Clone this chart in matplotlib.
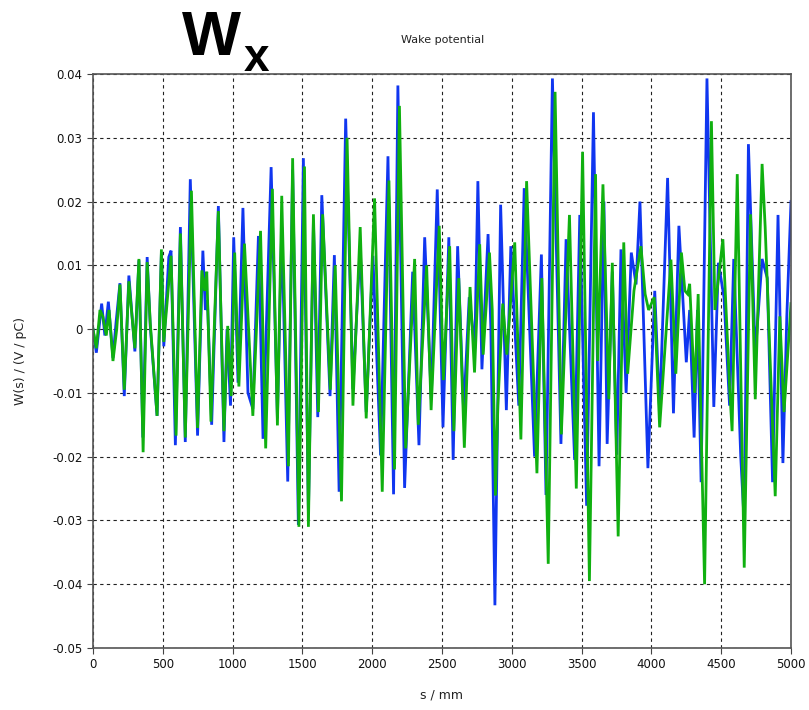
import matplotlib
matplotlib.use("Agg")
import matplotlib.pyplot as plt
import numpy as np

# Blue series: (s in mm, W in V/pC)
blue_s = [0, 24, 62, 85, 110, 143, 165, 193, 224, 257, 300, 329, 357, 388, 410, 459, 490, 507, 543, 559,
          590, 626, 661, 697, 749, 787, 805, 820, 850, 898, 938, 960, 985, 1008, 1039, 1074, 1110, 1145, 1185, 1218,
          1276, 1321, 1352, 1395, 1430, 1471, 1507, 1543, 1579, 1610, 1639, 1698, 1729, 1763, 1810, 1862, 1914, 1957, 2005, 2060,
          2113, 2153, 2184, 2232, 2290, 2335, 2376, 2423, 2466, 2507, 2549, 2580, 2612, 2655, 2695, 2735, 2757, 2786, 2830, 2850,
          2879, 2920, 2961, 2993, 3050, 3089, 3163, 3212, 3245, 3291, 3352, 3389, 3450, 3487, 3536, 3585, 3625, 3660, 3683, 3720,
          3752, 3782, 3819, 3856, 3890, 3918, 3975, 4024, 4059, 4116, 4158, 4197, 4250, 4274, 4306, 4330, 4356, 4398, 4447, 4480,
          4520, 4560, 4590, 4640, 4665, 4695, 4744, 4793, 4830, 4868, 4907, 4942, 4970, 5000]
blue_w = [0, -0.0037, 0.004, -0.001, 0.0043, -0.0045, 0.001, 0.0072, -0.0105, 0.0084, -0.0035, 0.0108, -0.017, 0.0113, 0.0005, -0.0136, 0.012, -0.0027, 0.0113, 0.0123,
          -0.0182, 0.016, -0.0177, 0.0235, -0.0167, 0.0123, 0.003, 0.0045, -0.015, 0.0193, -0.0177, 0.0, -0.012, 0.0144, -0.0084, 0.019, -0.01, -0.0125, 0.0146, -0.0172,
          0.0254, -0.014, 0.016, -0.0239, 0.025, -0.0307, 0.0268, -0.029, 0.017, -0.0138, 0.021, -0.0105, 0.0116, -0.0255, 0.033, -0.0094, 0.013, -0.013, 0.0115, -0.0198,
          0.0271, -0.0259, 0.0382, -0.0249, 0.009, -0.0182, 0.0144, -0.011, 0.0219, -0.0154, 0.0144, -0.0205, 0.013, -0.013, 0.005, -0.003, 0.0232, -0.0063, 0.0149, 0.0,
          -0.0433, 0.0195, -0.0127, 0.013, -0.012, 0.0221, -0.02, 0.0117, -0.026, 0.0393, -0.018, 0.0141, -0.0205, 0.0179, -0.0277, 0.034, -0.0215, 0.02, -0.018, 0.009,
          -0.0197, 0.0125, -0.01, 0.012, 0.007, 0.02, -0.0218, 0.006, -0.013, 0.0237, -0.0132, 0.0162, -0.0052, 0.003, -0.017, 0.003, -0.024, 0.0393, -0.0122, 0.0104,
          0.005, -0.012, 0.011, -0.02, -0.0305, 0.029, -0.004, 0.011, 0.008, -0.024, 0.0179, -0.021, 0.002, 0.02]

# Green series
green_s = [0, 24, 50, 70, 95, 115, 143, 170, 193, 224, 257, 300, 329, 359, 388, 410, 459, 490, 507, 559,
           595, 626, 661, 705, 749, 780, 800, 815, 845, 898, 938, 965, 990, 1015, 1045, 1085, 1145, 1200, 1237, 1285,
           1321, 1352, 1400, 1430, 1475, 1515, 1543, 1579, 1615, 1645, 1700, 1735, 1780, 1820, 1862, 1914, 1957, 2017, 2072, 2120,
           2160, 2195, 2240, 2304, 2330, 2390, 2422, 2480, 2510, 2555, 2585, 2620, 2660, 2701, 2733, 2770, 2795, 2840, 2860, 2883,
           2900, 2935, 2965, 3021, 3065, 3106, 3180, 3215, 3261, 3310, 3355, 3413, 3462, 3507, 3556, 3600, 3615, 3653, 3695, 3720,
           3762, 3802, 3830, 3875, 3925, 3955, 3980, 4000, 4020, 4059, 4140, 4175, 4215, 4240, 4260, 4274, 4310, 4335, 4381, 4430,
           4455, 4512, 4560, 4578, 4615, 4665, 4710, 4744, 4793, 4815, 4887, 4920, 4950, 5000]
green_w = [0, -0.003, 0.003, 0.002, -0.001, 0.003, -0.005, 0.0, 0.007, -0.0095, 0.0075, -0.003, 0.011, -0.0193, 0.0105, 0.001, -0.0136, 0.0125, -0.002, 0.0115,
           -0.0167, 0.015, -0.017, 0.0217, -0.0155, 0.0092, 0.006, 0.009, -0.0145, 0.0185, -0.016, 0.0005, -0.0105, 0.012, -0.009, 0.0134, -0.0136, 0.0154, -0.0187, 0.022,
           -0.0151, 0.0209, -0.0215, 0.0268, -0.031, 0.0255, -0.031, 0.018, -0.013, 0.018, -0.0095, 0.010, -0.027, 0.030, -0.012, 0.016, -0.014, 0.0205, -0.0255, 0.0233,
           -0.022, 0.035, -0.0187, 0.011, -0.015, 0.010, -0.0127, 0.0162, -0.008, 0.013, -0.016, 0.008, -0.0186, 0.0066, -0.0068, 0.0133, -0.004, 0.012, 0.003, -0.0261,
           -0.012, 0.004, -0.004, 0.0136, -0.0173, 0.0232, -0.0226, 0.008, -0.0368, 0.0372, -0.0165, 0.0179, -0.025, 0.0278, -0.0395, 0.0243, -0.005, 0.0227, -0.011, 0.0104,
           -0.0325, 0.0136, -0.007, 0.006, 0.013, 0.0055, 0.003, 0.004, 0.005, -0.0154, 0.0109, -0.007, 0.012, 0.006, 0.0055, 0.0071, -0.01, 0.0055, -0.040, 0.0326,
           0.003, 0.0141, -0.009, -0.016, 0.0243, -0.0374, 0.018, -0.011, 0.0259, 0.016, -0.0262, 0.002, -0.013, 0.004]

x_ticks = [0, 500, 1000, 1500, 2000, 2500, 3000, 3500, 4000, 4500, 5000]
y_ticks = [-0.05, -0.04, -0.03, -0.02, -0.01, 0, 0.01, 0.02, 0.03, 0.04]
y_tick_labels = ["-0.05", "-0.04", "-0.03", "-0.02", "-0.01", "0", "0.01", "0.02", "0.03", "0.04"]

fig = plt.figure(figsize=(8.09, 7.10), dpi=100)
ax = fig.add_axes([93 / 809, 1 - 648 / 710, (791 - 93) / 809, (648 - 74) / 710])

ax.plot(blue_s, blue_w, color="#1036f0", lw=2.0, solid_joinstyle="miter")
ax.plot(green_s, green_w, color="#10b010", lw=2.0, solid_joinstyle="miter")

ax.set_xlim(0, 5000)
ax.set_ylim(-0.05, 0.04)
ax.set_xticks(x_ticks)
ax.set_xticklabels([str(t) for t in x_ticks])
ax.set_yticks(y_ticks)
ax.set_yticklabels(y_tick_labels)
ax.grid(True, color="#222222", linestyle=(0, (3, 3)), linewidth=0.8)
ax.tick_params(axis="both", labelsize=8.5, direction="out", length=4, color="#444444", labelcolor="#111111")
for sp in ax.spines.values():
    sp.set_color("#555555")
    sp.set_linewidth(1.2)

ax.set_xlabel("s / mm", fontsize=9, color="#222222", labelpad=12)
ax.set_ylabel("W(s) / (V / pC)", fontsize=9, color="#222222", labelpad=18)

fig.text(443 / 809, 1 - 40 / 710, "Wake potential", ha="center", va="center", fontsize=8, color="#222222")
fig.text(182 / 809, 1 - 55 / 710, "W", ha="left", va="baseline", fontsize=45, fontweight="bold",
         family="Liberation Sans", color="black")
fig.text(244 / 809, 1 - 71 / 710, "x", ha="left", va="baseline", fontsize=33, fontweight="bold",
         family="Liberation Sans", color="black")

fig.savefig("out.png", dpi=100)
